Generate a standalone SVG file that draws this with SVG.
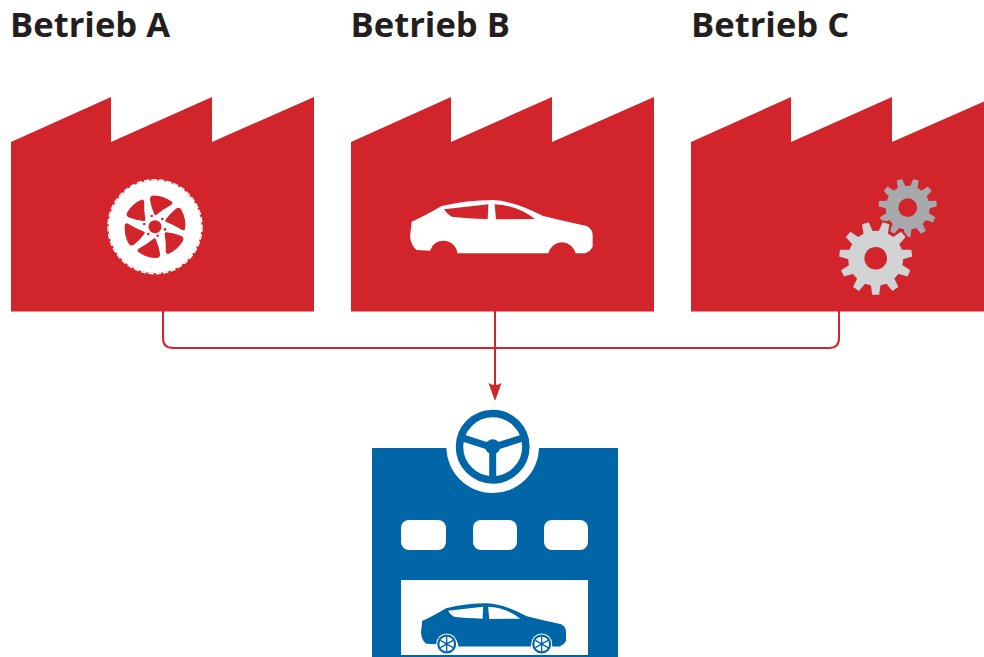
<svg xmlns="http://www.w3.org/2000/svg" width="984" height="657" viewBox="0 0 984 657">
<style>
.title{font-family:"Open Sans","Liberation Sans",sans-serif;font-weight:700;font-size:34.6px;fill:#231f20}
.red{fill:#d2242b}.blue{fill:#0066a8}.white{fill:#fff}
.conn{fill:none;stroke:#d2242b;stroke-width:2}
</style>
<defs>
<polygon id="factory" points="11,142 111,97 111,142 212,97 212,142 314,97 314,311.5 11,311.5"/>
<path id="car" fill-rule="evenodd" d="M35,95Q70,80 125,48Q200,30 280,30Q340,32 430,78Q500,95 560,108Q578,118 578,135L578,170Q570,185 555,190L527,190A42,42 0 0 0 445,190L172,190A42,42 0 0 0 90,182L50,180Q35,170 30,140ZM132,58L265,43L263,87Q200,85 155,80Q140,72 132,58ZM284,43Q350,45 405,87L288,88Z"/>
<path id="win" d="M-5,-27Q-5.4,-31.5 -1,-31.3Q9,-31 17,-25Q18,-23.5 16.5,-22Q8,-17.5 1.5,-12Q0,-11 -0.8,-12.6Q-4,-20 -5,-27Z"/>
<polygon id="tooth" points="-5,-25 -3.5,-36.5 3.5,-36.5 5,-25"/>
<g id="gear">
<circle r="27.5"/>
<use href="#tooth" transform="rotate(180)"/><use href="#tooth" transform="rotate(212.7)"/><use href="#tooth" transform="rotate(245.5)"/><use href="#tooth" transform="rotate(278.2)"/><use href="#tooth" transform="rotate(310.9)"/><use href="#tooth" transform="rotate(343.6)"/><use href="#tooth" transform="rotate(16.4)"/><use href="#tooth" transform="rotate(49.1)"/><use href="#tooth" transform="rotate(81.8)"/><use href="#tooth" transform="rotate(114.5)"/><use href="#tooth" transform="rotate(147.3)"/>
</g>
<g id="minitire">
<circle r="10.5" fill="#fff"/><circle r="9.5" fill="#0066a8"/><circle r="7.3" fill="#fff"/>
<path d="M0,-7V7M-6.3,-3.6L6.3,3.6M-6.3,3.6L6.3,-3.6" stroke="#0066a8" stroke-width="1.3" fill="none"/>
<circle r="1.6" fill="#0066a8"/>
</g>
<marker id="arrow" markerUnits="userSpaceOnUse" markerWidth="20" markerHeight="16" refX="9" refY="7" orient="auto"><path d="M0,0.5L18,7L0,13.5Q4,7 0,0.5Z" fill="#d2242b"/></marker>
</defs>

<g id="betrieb-a">
<text class="title" x="10" y="37">Betrieb A</text>
<use href="#factory" class="red"/>
<g transform="translate(155,226.7)">
<circle r="46.4" class="white"/>
<circle r="47" fill="none" stroke="#fff" stroke-width="1.4" stroke-dasharray="5.5 2"/>
<use href="#win" class="red"/><use href="#win" class="red" transform="rotate(60)"/><use href="#win" class="red" transform="rotate(120)"/><use href="#win" class="red" transform="rotate(180)"/><use href="#win" class="red" transform="rotate(240)"/><use href="#win" class="red" transform="rotate(300)"/>
<circle r="6.5" class="red"/>
<g class="red"><circle cx="-3.3" cy="-10.7" r="1.3"/><circle cx="7.3" cy="-7.7" r="1.3"/><circle cx="10" cy="2.7" r="1.3"/><circle cx="2.7" cy="9" r="1.3"/><circle cx="-6.7" cy="7.3" r="1.3"/><circle cx="-10.7" cy="-2.7" r="1.3"/></g>
</g>
</g>

<g id="betrieb-b">
<text class="title" x="350.5" y="37">Betrieb B</text>
<use href="#factory" class="red" x="340"/>
<use href="#car" class="white" transform="translate(400,190) scale(.3333)"/>
</g>

<g id="betrieb-c">
<text class="title" x="691" y="37">Betrieb C</text>
<use href="#factory" class="red" x="680"/>
<g transform="translate(907.7,207.7) scale(.8)" fill="#a7a9ac"><use href="#gear"/><circle r="11.7" class="red"/></g>
<g transform="translate(875.7,258.3)">
<use href="#gear" fill="#d2242b" stroke="#d2242b" stroke-width="4"/>
<use href="#gear" fill="#d1d3d4"/>
<circle r="11.3" class="red"/>
</g>
</g>

<g id="connectors">
<path class="conn" d="M163,311V338Q163,348 173,348H829Q839,348 839,338V311"/>
<path class="conn" d="M495,311V392" marker-end="url(#arrow)"/>
</g>

<g id="werk">
<rect class="blue" x="372" y="448" width="246" height="209"/>
<circle cx="492.7" cy="446.7" r="46.3" class="white"/>
<circle cx="492.7" cy="446.7" r="33.2" fill="none" stroke="#0066a8" stroke-width="7.5"/>
<circle cx="492.7" cy="446.7" r="7.5" class="blue"/>
<path d="M464,438.3L492.7,447.5L521.4,438.3M492.7,446.7V477" fill="none" stroke="#0066a8" stroke-width="7"/>
<rect class="white" x="401" y="520" width="45" height="30" rx="8"/>
<rect class="white" x="473" y="520" width="44" height="30" rx="8"/>
<rect class="white" x="544" y="520" width="44" height="30" rx="8"/>
<rect class="white" x="401" y="580" width="187" height="75"/>
<use href="#car" class="blue" transform="translate(413,595.2) scale(.2647,.27)"/>
<use href="#minitire" x="446.7" y="644"/>
<use href="#minitire" x="541.7" y="644"/>
</g>
</svg>
